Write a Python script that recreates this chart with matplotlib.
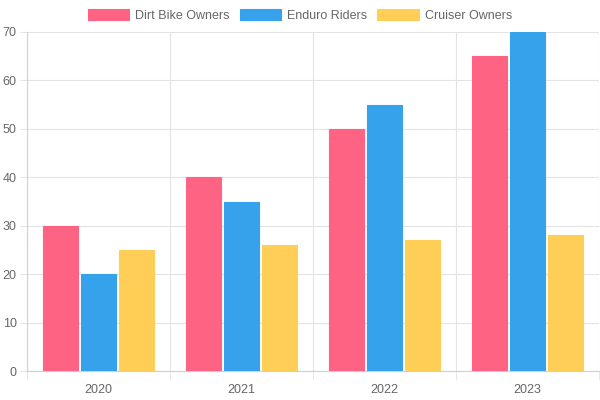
import numpy as np
import matplotlib
matplotlib.use("Agg")
import matplotlib.pyplot as plt

# ── Data ────────────────────────────────────────────────────────────
years = ["2020", "2021", "2022", "2023"]
dirt_bike = [30, 40, 50, 65]
enduro = [20, 35, 55, 70]
cruiser = [25, 26, 27, 28]

series = [
    ("Dirt Bike Owners", dirt_bike, "#FF6384"),
    ("Enduro Riders", enduro, "#36A2EB"),
    ("Cruiser Owners", cruiser, "#FFCE56"),
]

plt.rcParams["font.family"] = ["Liberation Sans", "DejaVu Sans"]
plt.rcParams["font.size"] = 9

fig = plt.figure(figsize=(6, 4), dpi=100)
ax = fig.add_axes([27 / 600, 29 / 400, 572 / 600, 339 / 400])

x = np.arange(len(years))
slot = 0.8 / 3
bar_w = slot * 0.9
for i, (name, vals, col) in enumerate(series):
    ax.bar(x - 0.4 + slot * (i + 0.5), vals, width=bar_w, color=col,
           edgecolor=col, linewidth=0.8, label=name, zorder=3)

ax.set_xlim(-0.5, len(years) - 0.5)
ax.set_ylim(0, 70)
ax.set_yticks(range(0, 71, 10))

grid_c = "#e4e4e4"
ax.set_xticks(x)
ax.set_xticklabels(years)
ax.set_xticks(np.arange(-0.5, len(years)), minor=True)
ax.tick_params(axis="x", which="major", length=0, pad=9.5, colors="#666666", labelsize=9)
ax.tick_params(axis="x", which="minor", length=6.5, color=grid_c)
ax.tick_params(axis="y", length=5, color=grid_c, pad=2.5, labelcolor="#666666", labelsize=9)
ax.grid(axis="y", color=grid_c, linewidth=0.8, zorder=0)
ax.grid(axis="x", which="minor", color=grid_c, linewidth=0.8, zorder=0)

for s in ["top", "right"]:
    ax.spines[s].set_visible(False)
for s in ["left", "bottom"]:
    ax.spines[s].set_color("#d0d0d0")
    ax.spines[s].set_linewidth(0.8)

fig.legend(loc="upper center", bbox_to_anchor=(0.5, 1.005), ncol=3, frameon=False,
           handlelength=3.3, handleheight=1.0, handletextpad=0.5, columnspacing=0.8,
           labelcolor="#666666", fontsize=9)

plt.savefig("out.png", dpi=100)
